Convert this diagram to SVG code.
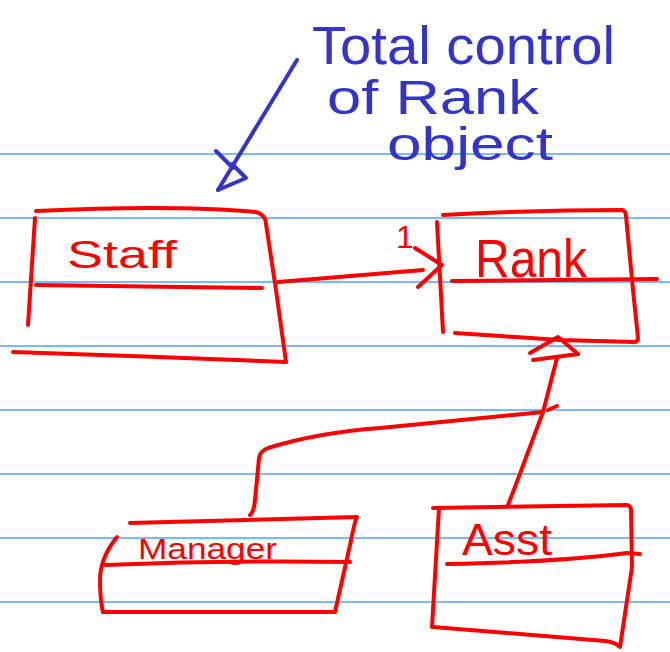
<svg xmlns="http://www.w3.org/2000/svg" width="670" height="652" viewBox="0 0 670 652">
  <style>
    .rule { stroke: #4aa3ff; stroke-width: 1.5; fill: none; }
    .ink { stroke: #ff0000; stroke-width: 4; fill: none; stroke-linecap: round; stroke-linejoin: round; }
    .note { stroke: #3434c8; stroke-width: 4; fill: none; stroke-linecap: round; stroke-linejoin: round; }
    .red { fill: #ff0000; font-family: "Liberation Sans", Arial, sans-serif; }
    .blue { fill: #3434c8; font-family: "Liberation Sans", Arial, sans-serif; }
  </style>

  <rect width="670" height="652" fill="#ffffff"/>

  <!-- ruled paper -->
  <g id="paper">
    <line class="rule" x1="0" y1="154" x2="670" y2="154"/>
    <line class="rule" x1="0" y1="218" x2="670" y2="218"/>
    <line class="rule" x1="0" y1="282" x2="670" y2="282"/>
    <line class="rule" x1="0" y1="346" x2="670" y2="346"/>
    <line class="rule" x1="0" y1="410" x2="670" y2="410"/>
    <line class="rule" x1="0" y1="474" x2="670" y2="474"/>
    <line class="rule" x1="0" y1="538" x2="670" y2="538"/>
    <line class="rule" x1="0" y1="602" x2="670" y2="602"/>
  </g>

  <!-- annotation -->
  <g id="note">
    <text class="blue" x="312" y="64" font-size="54" textLength="303" lengthAdjust="spacingAndGlyphs">Total control</text>
    <text class="blue" x="327" y="114" font-size="48" textLength="212" lengthAdjust="spacingAndGlyphs">of Rank</text>
    <text class="blue" x="387" y="160" font-size="46" textLength="166" lengthAdjust="spacingAndGlyphs">object</text>
  </g>

  <!-- classes -->
  <g id="staff">
    <path class="ink" d="M36,211 C120,207 200,207 256,212 Q266,215 266,224 L276,290 L286,362"/>
    <path class="ink" d="M286,362 C200,358 100,355 13,352"/>
    <path class="ink" d="M35,218 L28,325"/>
    <path class="ink" d="M36,285 L262,288"/>
    <text class="red" x="67" y="268" font-size="38" textLength="110" lengthAdjust="spacingAndGlyphs">Staff</text>
  </g>

  <g id="rank">
    <path class="ink" d="M443,215 C500,212 580,210 622,210 Q626,211 626,216 L633,290 L638,338 Q638,342 634,342 L560,340 L500,336 L455,333"/>
    <path class="ink" d="M437,222 L443,332"/>
    <path class="ink" d="M452,281 L657,279"/>
    <text class="red" x="475" y="277" font-size="54" textLength="112" lengthAdjust="spacingAndGlyphs">Rank</text>
  </g>

  <g id="manager">
    <path class="ink" d="M130,523 L357,517 Q355,520 350,545 L335,612 L103,612"/>
    <path class="ink" d="M117,537 Q100,558 100,580 Q100,600 103,612"/>
    <path class="ink" d="M105,565 Q230,560 350,562"/>
    <text class="red" x="138" y="559" font-size="30" textLength="139" lengthAdjust="spacingAndGlyphs">Manager</text>
  </g>

  <g id="asst">
    <path class="ink" d="M433,508 L627,505 Q631,506 631,510 L632,567 L620,647 Q615,642 605,641 L433,627"/>
    <path class="ink" d="M439,508 L432,627"/>
    <path class="ink" d="M447,564 Q560,562 627,553 L640,554"/>
    <text class="red" x="462" y="555" font-size="44" textLength="90" lengthAdjust="spacingAndGlyphs">Asst</text>
  </g>

  <!-- connectors -->
  <g id="connectors">
    <!-- annotation pointer -->
    <path class="note" d="M297,60 L218,190"/>
    <path class="note" d="M216,151 L233,168"/>
    <path class="note" d="M218,190 L246,178 L232,164"/>

    <!-- association Staff to Rank -->
    <path class="ink" d="M278,282 C330,278 380,274 423,270"/>
    <path class="ink" d="M415,248 L442,265 Q430,276 418,287"/>
    <text class="red" x="396" y="248" font-size="32">1</text>

    <!-- generalisation to Rank -->
    <path class="ink" d="M530,353 L558,337 L578,354"/>
    <path class="ink" d="M533,360 L578,354"/>
    <path class="ink" d="M557,358 L543,412 L515,487 L508,505"/>
    <path class="ink" d="M250,515 Q254,512 255,500 L259,458 Q260,451 268,448 C300,438 340,431 380,428 L543,412"/>
    <path class="ink" d="M548,410 L557,406"/>
  </g>
</svg>
